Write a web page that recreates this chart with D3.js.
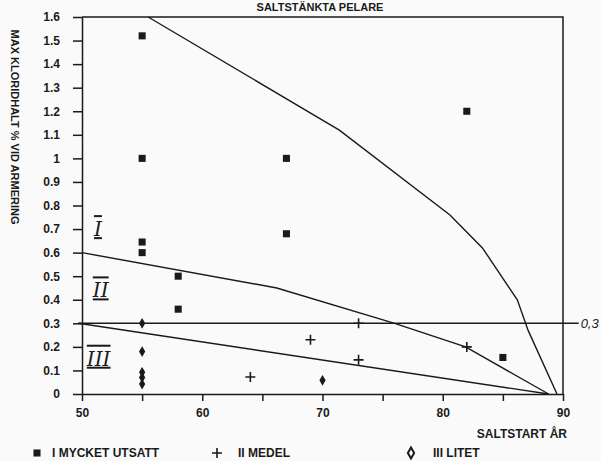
<!DOCTYPE html>
<html>
<head>
<meta charset="utf-8">
<script src="https://cdn.jsdelivr.net/npm/d3@7"></script>
<style>
	body { margin: 0; background: #fafafa; }
	svg { display: block; font-family: 'Liberation Sans', Arial, sans-serif; }
	.axis path, .axis line { stroke: #1a1a1a; stroke-width: 1.5; }
	.axis text { font-size: 12px; font-weight: bold; fill: #1a1a1a; font-family: 'Liberation Sans', Arial, sans-serif; }
</style>
</head>
<body>
<div class="chart"></div>
<script>
// tick labels
const xTicks = [50, 60, 70, 80, 90];
const xMinorTicks = [55, 65, 75, 85];
const yTicks = [0, 0.1, 0.2, 0.3, 0.4, 0.5, 0.6, 0.7, 0.8, 0.9, 1, 1.1, 1.2, 1.3, 1.4, 1.5, 1.6];

// I MYCKET UTSATT
const highYear = [55, 55, 67, 82, 55, 55, 58, 58, 67, 85];
const highValue = [1.52, 1.0, 1.0, 1.2, 0.645, 0.6, 0.5, 0.36, 0.68, 0.155];
// II MEDEL
const mediumYear = [73, 69, 64, 73, 82];
const mediumValue = [0.3, 0.23, 0.072, 0.145, 0.2];
// III LITET
const lowYear = [55, 55, 55, 55, 55, 70];
const lowValue = [0.3, 0.18, 0.092, 0.07, 0.042, 0.058];

// hand drawn boundaries [year, value]
const upperCurve = [[55.5, 1.6], [71.4, 1.12], [80.6, 0.76], [83.3, 0.62], [86.2, 0.4], [87.1, 0.27], [89.5, 0]];
const lineOneTwo = [[50, 0.6], [66.2, 0.45], [76, 0.3], [81.9, 0.2], [88.8, 0]];
const lineTwoThree = [[49.7, 0.3], [88.8, 0]];
const refLine = [[49.7, 0.3], [91.3, 0.3]];

const zones = [['I', 51.0, 0.67], ['II', 50.9, 0.41], ['III', 50.4, 0.12]];

const width = 601;
const height = 461;
const ink = '#1a1a1a';

const svg = d3.select('.chart')
	.append('svg')
	.attr('width', width)
	.attr('height', height);

const x = d3.scaleLinear().domain([50, 90]).range([82, 563]);
const y = d3.scaleLinear().domain([0, 1.6]).range([394, 17]);

// frame (top and right)
svg.append('path')
	.attr('d', `M${x(50)},${y(1.6)}H${x(90)}V${y(0)}`)
	.attr('fill', 'none')
	.attr('stroke', ink)
	.attr('stroke-width', 1.5);

svg.append('g')
	.attr('class', 'axis')
	.attr('transform', 'translate(0,' + y(0) + ')')
	.call(d3.axisBottom(x).tickValues(xMinorTicks).tickSize(7).tickFormat(''))
	.call(g => g.select('.domain').remove());

svg.append('g')
	.attr('class', 'axis')
	.attr('transform', 'translate(0,' + y(0) + ')')
	.call(d3.axisBottom(x).tickValues(xTicks).tickSize(7).tickSizeOuter(0).tickPadding(7));

svg.append('g')
	.attr('class', 'axis')
	.attr('transform', 'translate(' + x(50) + ',0)')
	.call(d3.axisLeft(y).tickValues(yTicks).tickSize(9).tickSizeOuter(0).tickPadding(13).tickFormat(d3.format('~g')));

const line = d3.line().x(d => x(d[0])).y(d => y(d[1]));

[upperCurve, lineOneTwo, lineTwoThree, refLine].forEach(pts => {
	svg.append('path')
		.attr('d', line(pts))
		.attr('fill', 'none')
		.attr('stroke', ink)
		.attr('stroke-width', 1.4);
});

svg.append('text')
	.attr('x', x(refLine[1][0]) + 2)
	.attr('y', y(0.3))
	.attr('dy', '0.35em')
	.attr('font-size', 13)
	.attr('font-style', 'italic')
	.attr('fill', ink)
	.text('0,3');

svg.selectAll('.zone')
	.data(zones)
	.enter()
	.append('text')
	.attr('class', 'zone')
	.attr('x', d => x(d[1]))
	.attr('y', d => y(d[2]))
	.attr('font-family', 'DejaVu Serif, serif')
	.attr('font-style', 'italic')
	.attr('font-size', 20)
	.attr('text-decoration', 'overline underline')
	.attr('fill', ink)
	.text(d => d[0]);

const square = d3.symbol().type(d3.symbolSquare).size(50);
const plus = 'M-5,0H5M0,-5V5';
const diamond = d3.symbol().type(d3.symbolDiamond).size(34);

svg.selectAll('.high')
	.data(d3.zip(highYear, highValue))
	.enter()
	.append('path')
	.attr('class', 'high')
	.attr('transform', d => `translate(${x(d[0])},${y(d[1])})`)
	.attr('d', square)
	.attr('fill', ink);

svg.selectAll('.medium')
	.data(d3.zip(mediumYear, mediumValue))
	.enter()
	.append('path')
	.attr('class', 'medium')
	.attr('transform', d => `translate(${x(d[0])},${y(d[1])})`)
	.attr('d', plus)
	.attr('stroke', ink)
	.attr('stroke-width', 1.6);

svg.selectAll('.low')
	.data(d3.zip(lowYear, lowValue))
	.enter()
	.append('path')
	.attr('class', 'low')
	.attr('transform', d => `translate(${x(d[0])},${y(d[1])})`)
	.attr('d', diamond)
	.attr('fill', ink);

// titles
svg.append('text')
	.attr('x', 320)
	.attr('y', 11)
	.attr('text-anchor', 'middle')
	.attr('font-size', 11)
	.attr('font-weight', 'bold')
	.attr('fill', ink)
	.text('SALTSTÄNKTA PELARE');

svg.append('text')
	.attr('transform', 'translate(15,127) rotate(90)')
	.attr('text-anchor', 'middle')
	.attr('dominant-baseline', 'central')
	.attr('font-size', 11)
	.attr('font-weight', 'bold')
	.attr('fill', ink)
	.text('MAX KLORIDHALT % VID ARMERING');

svg.append('text')
	.attr('x', 567)
	.attr('y', 438)
	.attr('text-anchor', 'end')
	.attr('font-size', 12)
	.attr('font-weight', 'bold')
	.attr('fill', ink)
	.text('SALTSTART ÅR');

// legend
const legendY = 453;
svg.append('path')
	.attr('transform', `translate(37,${legendY})`)
	.attr('d', square)
	.attr('fill', ink);
svg.append('path')
	.attr('transform', `translate(217,${legendY})`)
	.attr('d', plus)
	.attr('stroke', ink)
	.attr('stroke-width', 1.6);
svg.append('path')
	.attr('transform', `translate(411,${legendY})`)
	.attr('d', diamond)
	.attr('fill', 'none')
	.attr('stroke', ink)
	.attr('stroke-width', 2);

[['I MYCKET UTSATT', 52], ['II MEDEL', 238], ['III LITET', 433]].forEach(([t, lx]) => {
	svg.append('text')
		.attr('x', lx)
		.attr('y', legendY + 4)
		.attr('font-size', 12)
		.attr('font-weight', 'bold')
		.attr('fill', ink)
		.text(t);
});
</script>
</body>
</html>
